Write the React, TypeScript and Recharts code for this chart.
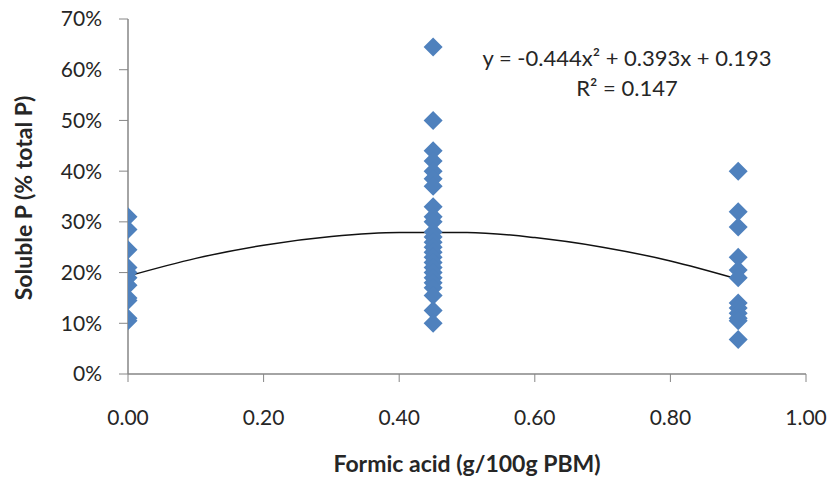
import React from 'react'
import { ComposedChart, Scatter, Line, XAxis, YAxis, Label } from 'recharts'

// formic acid dose levels (g/100g PBM)
const doses = [0, 0.45, 0.9]

// soluble P (% of total P) per dose
const solubleAt0 = [0.31, 0.285, 0.245, 0.21, 0.2, 0.19, 0.175, 0.15, 0.145, 0.11, 0.105]
const solubleAt045 = [
  0.645, 0.5, 0.44, 0.42, 0.4, 0.385, 0.37, 0.33, 0.31, 0.3, 0.28, 0.27, 0.26,
  0.25, 0.24, 0.23, 0.22, 0.21, 0.2, 0.19, 0.18, 0.17, 0.155, 0.125, 0.1,
]
const solubleAt09 = [0.4, 0.32, 0.29, 0.23, 0.205, 0.19, 0.14, 0.13, 0.12, 0.11, 0.105, 0.068]

// polynomial trendline
const trendX = [0, 0.1, 0.2, 0.3, 0.4, 0.5, 0.6, 0.7, 0.8, 0.9]
const trendY = [0.193, 0.228, 0.254, 0.271, 0.279, 0.279, 0.269, 0.25, 0.223, 0.187]

const xTicks = [0, 0.2, 0.4, 0.6, 0.8, 1]
const yTicks = [0, 0.1, 0.2, 0.3, 0.4, 0.5, 0.6, 0.7]

const points = [solubleAt0, solubleAt045, solubleAt09].flatMap((vals, i) =>
  vals.map((v) => ({ x: doses[i], y: v }))
)
const trend = trendX.map((x, i) => ({ x, t: trendY[i] }))

const font = 'Lato, "Open Sans", sans-serif'
const axisColor = '#868686'
const textColor = '#262626'

const Diamond = (props: any) => {
  const { cx, cy } = props
  const r = 9.5
  return (
    <polygon
      points={`${cx},${cy - r} ${cx + r},${cy} ${cx},${cy + r} ${cx - r},${cy}`}
      fill="#4f81bd"
    />
  )
}

export default function App() {
  return (
    <div style={{ position: 'absolute', left: 0, top: 0, width: 836, height: 484, background: '#fff', fontFamily: font }}>
      <ComposedChart width={836} height={484} margin={{ top: 19, right: 30, bottom: 0, left: 0 }}>
        <XAxis
          type="number"
          dataKey="x"
          domain={[0, 1]}
          ticks={xTicks}
          tickFormatter={(v: number) => v.toFixed(2)}
          tick={{ fill: textColor, fontSize: 21, fontFamily: font }}
          tickLine={{ stroke: axisColor }}
          axisLine={{ stroke: axisColor, strokeWidth: 1.5 }}
          tickSize={8}
          tickMargin={28}
          height={110}
          allowDataOverflow
        >
          <Label
            value="Formic acid (g/100g PBM)"
            position="insideBottom"
            offset={12}
            style={{ fontSize: 23, fontWeight: 'bold', fill: textColor, fontFamily: font }}
          />
        </XAxis>
        <YAxis
          type="number"
          domain={[0, 0.7]}
          ticks={yTicks}
          tickFormatter={(v: number) => `${Math.round(v * 100)}%`}
          tick={{ fill: textColor, fontSize: 21, fontFamily: font }}
          tickLine={{ stroke: axisColor }}
          axisLine={{ stroke: axisColor, strokeWidth: 1.5 }}
          tickSize={9}
          tickMargin={17}
          width={128}
          allowDataOverflow
        >
          <Label
            content={() => (
              <text
                x={23}
                y={198}
                transform="rotate(-90 23 198)"
                textAnchor="middle"
                dominantBaseline="central"
                style={{ fontSize: 23, fontWeight: 'bold', fill: textColor, fontFamily: font }}
              >
                Soluble P (% total P)
              </text>
            )}
          />
        </YAxis>
        <Line
          data={trend}
          dataKey="t"
          type="monotone"
          stroke="#111"
          strokeWidth={1.5}
          dot={false}
          isAnimationActive={false}
        />
        <Scatter data={points} dataKey="y" shape={Diamond} isAnimationActive={false} />
      </ComposedChart>
      <div
        style={{
          position: 'absolute',
          left: 467,
          top: 43,
          width: 320,
          textAlign: 'center',
          fontSize: 22,
          lineHeight: '30px',
          color: textColor,
        }}
      >
        <div>y = -0.444x² + 0.393x + 0.193</div>
        <div>R² = 0.147</div>
      </div>
    </div>
  )
}
